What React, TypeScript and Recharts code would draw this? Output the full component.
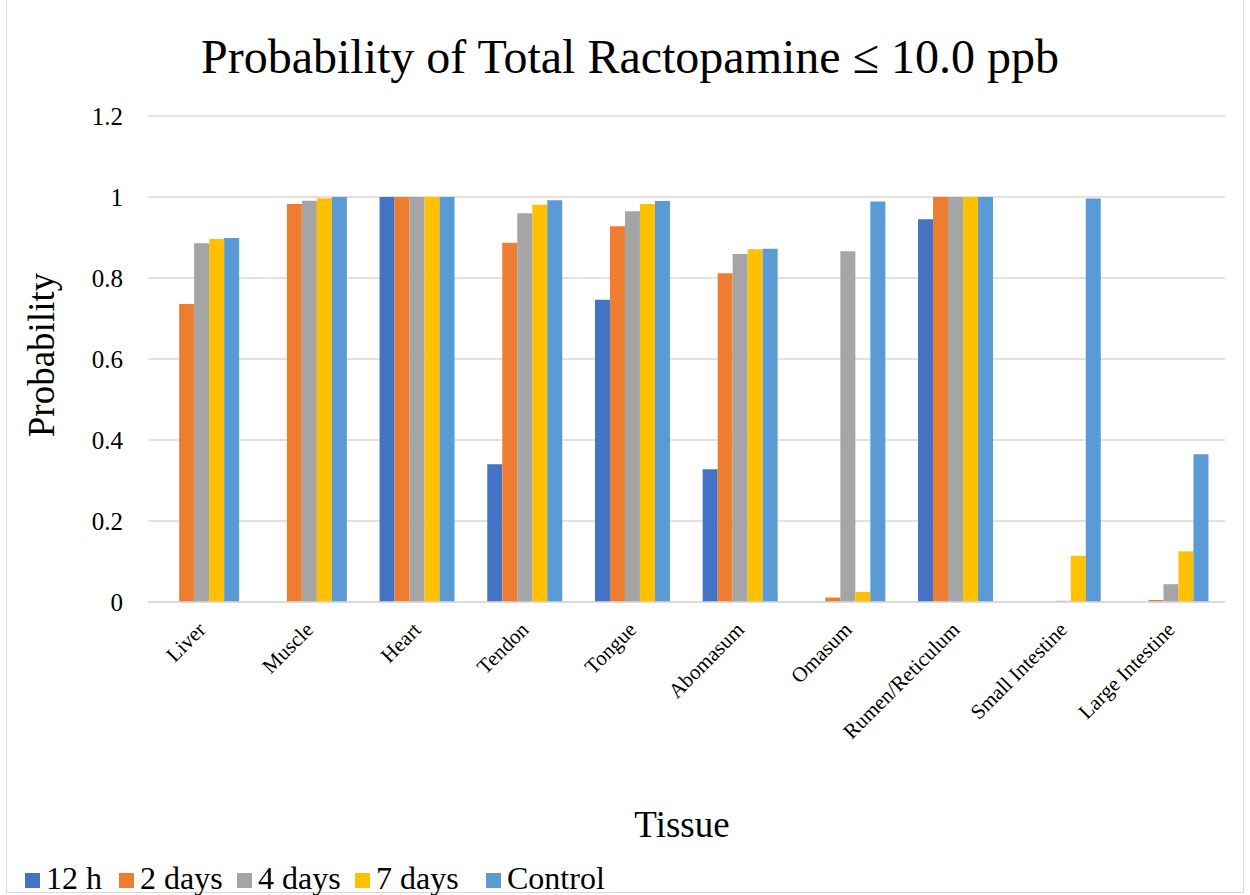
import { Bar, BarChart, CartesianGrid, XAxis, YAxis } from 'recharts'

const tissues = [
  'Liver',
  'Muscle',
  'Heart',
  'Tendon',
  'Tongue',
  'Abomasum',
  'Omasum',
  'Rumen/Reticulum',
  'Small Intestine',
  'Large Intestine',
]

const h12 = [0, 0, 1, 0.34, 0.746, 0.328, 0, 0.945, 0, 0]
const days2 = [0.736, 0.983, 1, 0.887, 0.928, 0.812, 0.011, 1, 0, 0.005]
const days4 = [0.886, 0.991, 1, 0.96, 0.965, 0.859, 0.866, 1, 0.003, 0.044]
const days7 = [0.896, 0.997, 1, 0.981, 0.983, 0.871, 0.025, 1, 0.114, 0.125]
const control = [0.899, 1, 1, 0.992, 0.99, 0.872, 0.989, 1, 0.996, 0.365]

const yTicks = [0, 0.2, 0.4, 0.6, 0.8, 1, 1.2]

const SERIES = [
  { key: 'h12', name: '12 h', color: '#4472C4', values: h12 },
  { key: 'days2', name: '2 days', color: '#ED7D31', values: days2 },
  { key: 'days4', name: '4 days', color: '#A5A5A5', values: days4 },
  { key: 'days7', name: '7 days', color: '#FFC000', values: days7 },
  { key: 'control', name: 'Control', color: '#5B9BD5', values: control },
]

// left edge of each legend swatch
const LEGEND_X = [25, 119, 237, 355, 486]

const data = tissues.map((tissue, i) => {
  const row: Record<string, string | number> = { tissue }
  SERIES.forEach((s) => {
    row[s.key] = s.values[i]
  })
  return row
})

const FONT = 'Liberation Serif, Times New Roman, serif'

function TissueTick({ x, y, payload }: any) {
  return (
    <g transform={`translate(${x + 5},${y + 21})`}>
      <text
        textAnchor="end"
        transform="rotate(-45)"
        fontFamily={FONT}
        fontSize={21}
        fill="#000"
      >
        {payload.value}
      </text>
    </g>
  )
}

export default function App() {
  return (
    <div
      style={{
        position: 'fixed',
        left: 0,
        top: 0,
        width: 1250,
        height: 895,
        background: '#fff',
      }}
    >
      <div
        style={{
          position: 'absolute',
          left: 6,
          top: 0,
          width: 1236,
          height: 892,
          border: '1px solid #d9d9d9',
          borderTop: 'none',
        }}
      />
      <BarChart
        width={1250}
        height={895}
        data={data}
        margin={{ top: 116, right: 25, bottom: 113, left: 0 }}
        barCategoryGap="15%"
        barGap={0}
        style={{ position: 'absolute', left: 0, top: 0 }}
      >
        <CartesianGrid vertical={false} stroke="#d9d9d9" strokeWidth={1.5} />
        <XAxis
          dataKey="tissue"
          interval={0}
          height={180}
          tick={<TissueTick />}
          tickLine={false}
          axisLine={{ stroke: '#d9d9d9', strokeWidth: 1.5 }}
        />
        <YAxis
          domain={[0, 1.2]}
          ticks={yTicks}
          width={148}
          axisLine={false}
          tickLine={false}
          tick={{ fontSize: 25, fill: '#000', fontFamily: FONT }}
          tickMargin={19}
        />
        {SERIES.map((s) => (
          <Bar
            key={s.key}
            dataKey={s.key}
            name={s.name}
            fill={s.color}
            isAnimationActive={false}
          />
        ))}
      </BarChart>
      {/* title, axis titles and legend */}
      <svg
        width={1250}
        height={895}
        style={{ position: 'absolute', left: 0, top: 0, pointerEvents: 'none' }}
        fontFamily={FONT}
        fill="#000"
      >
        <text x={630} y={73} textAnchor="middle" fontSize={48}>
          Probability of Total Ractopamine ≤ 10.0 ppb
        </text>
        <text
          transform="translate(54,355) rotate(-90)"
          textAnchor="middle"
          fontSize={37}
        >
          Probability
        </text>
        <text x={682} y={837} textAnchor="middle" fontSize={37}>
          Tissue
        </text>
        {SERIES.map((s, i) => (
          <g key={s.key}>
            <rect x={LEGEND_X[i]} y={873} width={15} height={15} fill={s.color} />
            <text x={LEGEND_X[i] + 21} y={889} fontSize={32}>
              {s.name}
            </text>
          </g>
        ))}
      </svg>
    </div>
  )
}
